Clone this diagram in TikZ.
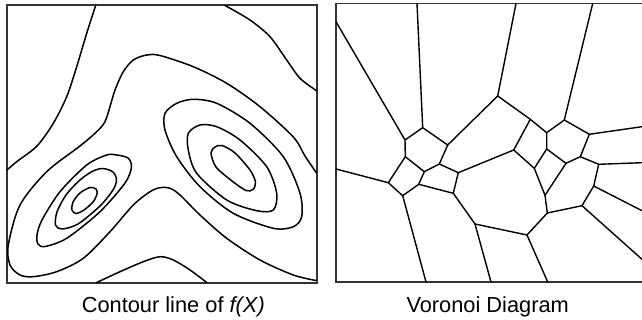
\documentclass[tikz,border=0pt]{standalone}
\usepackage{fontspec}
\setmainfont{Liberation Sans}
\begin{document}
\begin{tikzpicture}[x=1pt,y=-1pt,
  frame/.style={line width=1.8pt,draw=black!80},
  contour/.style={line width=1.5pt,line join=round,line cap=round},
  vedge/.style={line width=1.4pt,line join=round,line cap=round},
  caption/.style={anchor=base,inner sep=0pt,font=\fontsize{21.8}{26}\selectfont}]
\useasboundingbox (0,0) rectangle (642,320);
% ---------- left panel: contour lines ----------
\draw[frame] (7,5) rectangle (317,283);
\draw[contour] plot[smooth] coordinates {(95.5,6) (86.7,33.3) (76.7,66.7) (66.7,96.7) (53.3,123.3) (37,146) (16.7,161.7) (7,170)};
\draw[contour] plot[smooth] coordinates {(225,5.5) (250,20) (270,36.7) (286.7,60) (300,78.3) (316.5,90.7)};
\draw[contour] plot[smooth] coordinates {(316.5,173) (305,156) (293.3,137) (260,106.7) (226.7,83.3) (193.3,66.7) (160,55.5) (146.7,55) (133.3,60) (123.3,71.7) (115,90) (110,106.7) (105,121.7) (96.7,131.7) (80,146) (46.7,171.7) (20,205) (8.3,245) (10,265) (20,275) (33.3,276.7) (56.7,271.7) (83.3,258.3) (110,231.7) (133.3,205) (150,191.7) (160,187.7) (170,188.3) (180,195) (200,215) (226.7,238.3) (260,260) (293.3,275) (316,280.5)};
\draw[contour] plot[smooth] coordinates {(96.7,282.5) (120,271.7) (143.3,261.7) (160,256.7) (173.3,260) (190,270) (206.7,282.5)};
% left ellipses
\draw[contour] plot[smooth cycle] coordinates {(90,187.5) (80,193) (73,202) (72,210) (76,213.5) (84,210) (93,202) (97,194) (96,189)};
\draw[contour] plot[smooth cycle] coordinates {(103,168.5) (113,172) (116.5,180) (113,190) (100,206) (78,224) (62,229) (55.5,225) (57,212) (66,195) (80,180) (93,171)};
\draw[contour] plot[smooth cycle] coordinates {(116.7,155) (128,158) (131.5,167) (125,183) (100,211.7) (66.7,238.3) (45,246.5) (38,244) (37,235) (42,220) (60,191.7) (86.7,165) (106.7,155)};
% right ellipses
\draw[contour] plot[smooth cycle] coordinates {(211,153) (215,147) (222,145.5) (235,153) (250,170) (255.5,182) (253,189.5) (246,190.5) (232,181) (216,167)};
\draw[contour] plot[smooth cycle] coordinates {(200,125) (188.3,133.3) (188.3,150) (196.7,173.3) (226.7,200) (256.7,210.7) (273.3,210) (276.7,193.3) (266.7,166.7) (240,140) (216.7,126.7)};
\draw[contour] plot[smooth cycle] coordinates {(165,113.3) (176.7,103.3) (193.3,99.3) (216.7,103.3) (250,123.3) (283.3,156.7) (300,193.3) (301.7,216.7) (293.3,226.7) (273.3,228.3) (233.3,213.3) (200,186.7) (176.7,156.7) (165,130)};
\node[caption] (capL) at (173.3,312) {Contour line of \textit{f(X)}};
% ---------- right panel: Voronoi diagram ----------
\draw[frame] (645,3.5) -- (336,3.5) -- (336,282) -- (645,282);
\coordinate (A) at (405,140);
\coordinate (B) at (422.7,127.7);
\coordinate (C) at (447.7,145);
\coordinate (D) at (497.7,96);
\coordinate (E) at (530.3,119.3);
\coordinate (F) at (546.7,132.7);
\coordinate (G) at (564.3,120);
\coordinate (H) at (589.3,134.3);
\coordinate (A2) at (405.3,156.7);
\coordinate (P) at (424.3,171.7);
\coordinate (Q) at (439.3,164);
\coordinate (R) at (458.3,172.7);
\coordinate (S) at (388.3,182.7);
\coordinate (T) at (402.7,195.7);
\coordinate (U) at (418.7,184.3);
\coordinate (V) at (453.3,193.3);
\coordinate (W) at (513.7,150);
\coordinate (X) at (534.3,168.3);
\coordinate (Y) at (546.7,149);
\coordinate (Z) at (566,163.3);
\coordinate (H2) at (580.3,156.7);
\coordinate (I) at (598.7,164.3);
\coordinate (J) at (593.7,186);
\coordinate (K) at (582,205.7);
\coordinate (L) at (545,195.3);
\coordinate (M) at (547.3,213);
\coordinate (N) at (527,235);
\coordinate (O) at (475,224);
\coordinate (b1) at (336,21.7);
\coordinate (b2) at (417,3.5);
\coordinate (b3) at (516,3.5);
\coordinate (b4) at (592.7,3.5);
\coordinate (b5) at (642,126.7);
\coordinate (b6) at (336,169);
\coordinate (b7) at (642,162.7);
\coordinate (b8) at (642,210.7);
\coordinate (b9) at (642,259.3);
\coordinate (b10) at (426,282);
\coordinate (b11) at (491,282);
\coordinate (b12) at (547.7,282);
\draw[vedge] (b1) -- (A) -- (B) -- (C) -- (D) -- (E) -- (F) -- (G) -- (H) -- (b5);
\draw[vedge] (b2) -- (B);
\draw[vedge] (b3) -- (D);
\draw[vedge] (b4) -- (G);
\draw[vedge] (A) -- (A2) -- (P) -- (Q) -- (C);
\draw[vedge] (Q) -- (R) -- (W) -- (E);
\draw[vedge] (A2) -- (S) -- (T) -- (U) -- (P);
\draw[vedge] (b6) -- (S);
\draw[vedge] (U) -- (V) -- (R);
\draw[vedge] (T) -- (b10);
\draw[vedge] (W) -- (X) -- (Y) -- (F);
\draw[vedge] (Y) -- (Z) -- (H2) -- (H);
\draw[vedge] (H2) -- (I) -- (b7);
\draw[vedge] (I) -- (J) -- (b8);
\draw[vedge] (J) -- (K) -- (b9);
\draw[vedge] (X) -- (L) -- (Z);
\draw[vedge] (L) -- (M) -- (K);
\draw[vedge] (M) -- (N) -- (O) -- (V);
\draw[vedge] (O) -- (b11);
\draw[vedge] (N) -- (b12);
\node[caption] (capR) at (487.7,312) {Voronoi Diagram};
\end{tikzpicture}
\end{document}
